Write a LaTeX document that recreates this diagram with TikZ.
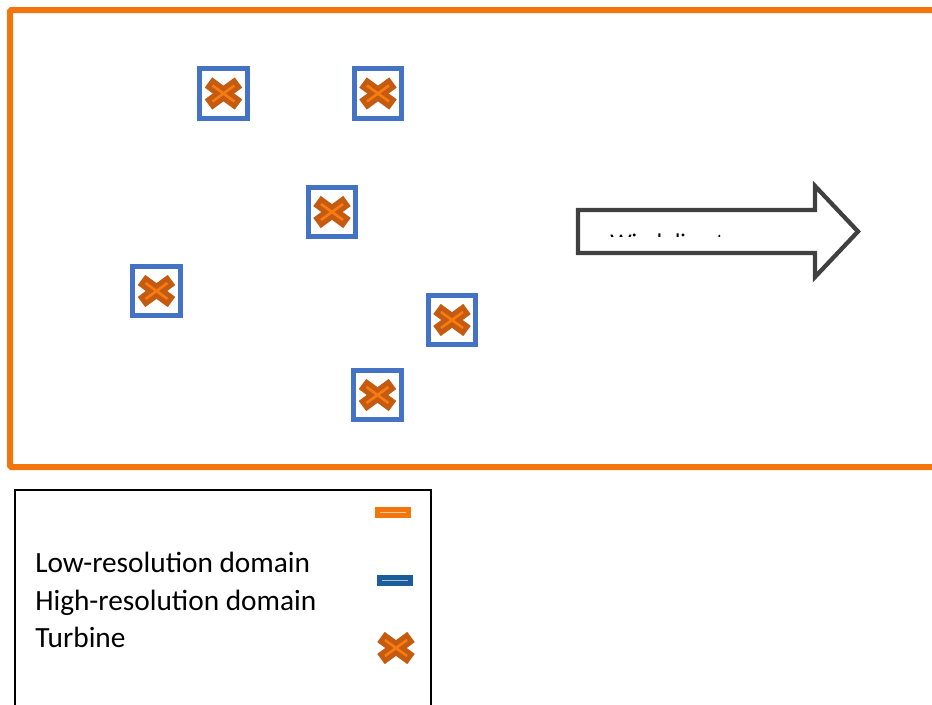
\documentclass[tikz,border=0pt]{standalone}
\usepackage{fontspec}
\setmainfont{Carlito}
\definecolor{lowres}{RGB}{242,118,12}
\definecolor{hiblue}{RGB}{68,114,196}
\definecolor{turbdark}{RGB}{197,90,17}
\definecolor{turblight}{RGB}{246,124,18}
\definecolor{arrowgrey}{RGB}{64,64,64}
\definecolor{legblue}{RGB}{28,92,152}
\definecolor{legpale}{RGB}{250,200,165}
\definecolor{legpaleblue}{RGB}{170,195,225}
\tikzset{
  hibox/.style={draw=hiblue, line width=3.75pt, rectangle, minimum width=35.5pt, minimum height=37pt, inner sep=0pt},
  legtext/.style={anchor=base west, inner sep=0pt, font=\fontsize{22}{26}\selectfont},
  turbine/.pic={
    \draw[turbdark, line width=9.5pt] (-15,-11) -- (15,11);
    \draw[turbdark, line width=9.5pt] (-15,11) -- (15,-11);
    \draw[turblight, line width=2pt] (-11,-8) -- (11,8);
    \draw[turblight, line width=2pt] (-11,8) -- (11,-8);
  }
}
\begin{document}
\begin{tikzpicture}[x=0.75pt,y=-0.75pt]
\useasboundingbox (0,0) rectangle (932,704);
% low-resolution domain
\draw[lowres, line width=4.5pt, rounded corners=1pt] (10,10) rectangle (950,467);
% high-resolution domains with turbines
\foreach \n/\x/\y in {t1/223.5/93.5, t2/378/93.5, t3/332/212, t4/156.5/291, t5/452/320, t6/377.5/395}{
  \node[hibox] (\n) at (\x,\y) {};
  \pic at (\n.center) {turbine};
}
% wind arrow
\draw[arrowgrey, line width=3.2pt, miter limit=10, fill=white]
  (578,210) -- (815,210) -- (815,186) -- (858,231.5) -- (815,277) -- (815,253) -- (578,253) -- cycle;
\begin{scope}
  \clip (600,233.5) rectangle (720,236);
  \node[anchor=base west, inner sep=0pt, font=\fontsize{18}{20}\selectfont] (wind) at (610,250) {Wind direction};
\end{scope}
% legend
\draw[black, line width=1.5pt] (15,490) rectangle (431,712);
\node[legtext] (l1) at (35,572) {Low-resolution domain};
\node[legtext] (l2) at (35,610) {High-resolution domain};
\node[legtext] (l3) at (35,647) {Turbine};
\fill[lowres] (375,507) rectangle (411,518);
\draw[legpale, line width=0.9pt] (380,512.5) -- (406,512.5);
\fill[legblue] (377,575) rectangle (413,586);
\draw[legpaleblue, line width=0.9pt] (382,580.5) -- (408,580.5);
\coordinate (lt) at (396,648);
\pic at (lt) {turbine};
\end{tikzpicture}
\end{document}
